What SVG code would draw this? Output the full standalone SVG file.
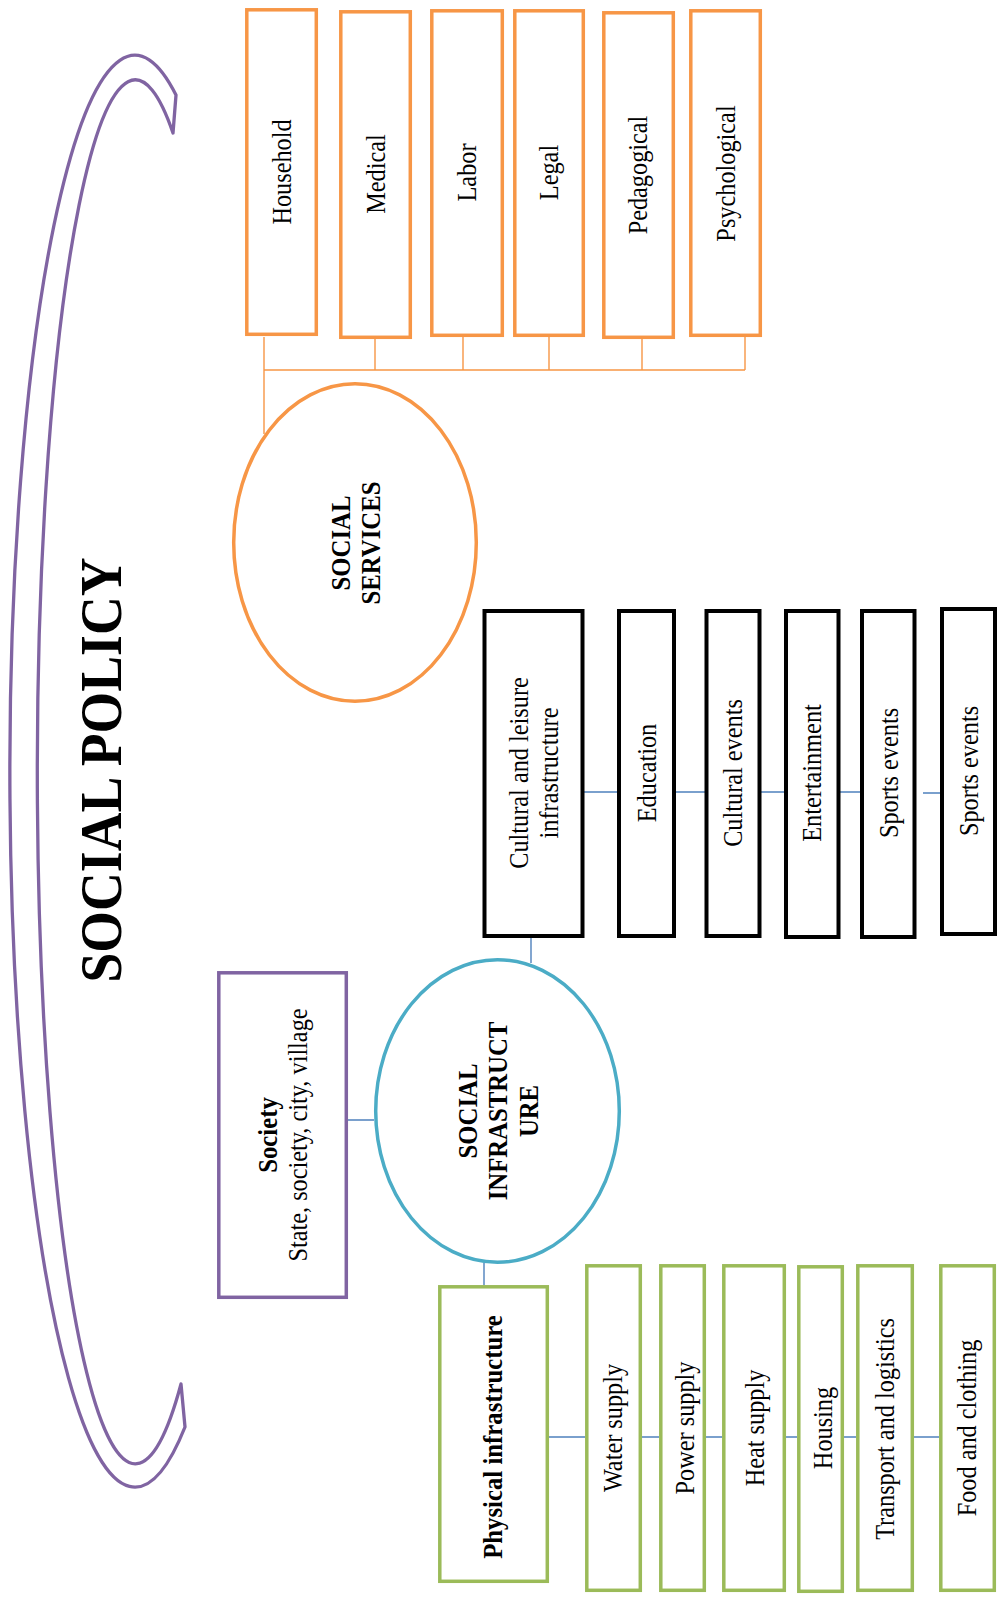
<svg xmlns="http://www.w3.org/2000/svg" width="1002" height="1597" viewBox="0 0 1002 1597">
<style>
text{font-family:"Liberation Serif","Times New Roman",serif;fill:#000;text-anchor:middle}
.r{font-size:27px}
.b{font-size:27.5px;font-weight:bold}
.or{fill:#fff;stroke:#F79646;stroke-width:3.5}
.bk{fill:#fff;stroke:#000;stroke-width:4}
.gr{fill:#fff;stroke:#9BBB59;stroke-width:3.5}
.pu{fill:#fff;stroke:#8064A2;stroke-width:3.5}
.ol{stroke:#F79646;stroke-width:1.4;fill:none}
.bl{stroke:#4F81BD;stroke-width:1.4;fill:none}
</style>
<rect width="1002" height="1597" fill="#fff"/>
<g id="social-policy">
<path d="M176,95 A125,716 0 1,0 185,1427 L181,1384 A98,692 0 1,1 173,133 Z" fill="none" stroke="#8064A2" stroke-width="3.3" stroke-linejoin="round"/>
<text transform="translate(121,770) rotate(-90)" style="font-size:60px;font-weight:bold" textLength="425" lengthAdjust="spacingAndGlyphs">SOCIAL POLICY</text>
</g>
<g id="connectors">
<path class="ol" d="M264,337V434 M375,339V370 M463,337V370 M549,337V370 M642,339V370 M745,337V370 M264,370H745"/>
<path class="bl" d="M531,938V963 M584,792H617 M676,792H705 M761,792H784 M840,792H860 M923,793H940"/>
<path class="bl" d="M348,1120H374 M484,1263V1285 M549,1437H585 M642,1437H659 M706,1437H722 M786,1437H797 M844,1437H856 M914,1437H939"/>
</g>
<g id="household"><rect class="or" x="246.8" y="9.8" width="69.5" height="324.5"/><text class="r" transform="translate(291,172) rotate(-90) scale(0.9,1)">Household</text></g>
<g id="medical"><rect class="or" x="340.8" y="11.8" width="69.5" height="325.5"/><text class="r" transform="translate(385,174) rotate(-90) scale(0.9,1)">Medical</text></g>
<g id="labor"><rect class="or" x="431.8" y="10.8" width="70.5" height="324.5"/><text class="r" transform="translate(476,172.5) rotate(-90) scale(0.9,1)">Labor</text></g>
<g id="legal"><rect class="or" x="514.8" y="10.8" width="68.5" height="324.5"/><text class="r" transform="translate(558,172.5) rotate(-90) scale(0.9,1)">Legal</text></g>
<g id="pedagogical"><rect class="or" x="603.8" y="12.8" width="69.5" height="324.5"/><text class="r" transform="translate(647,175) rotate(-90) scale(0.9,1)">Pedagogical</text></g>
<g id="psychological"><rect class="or" x="690.8" y="10.8" width="69.5" height="324.5"/><text class="r" transform="translate(735,173.5) rotate(-90) scale(0.9,1)">Psychological</text></g>
<g id="social-services"><ellipse cx="355" cy="542.5" rx="121.3" ry="158.8" fill="#fff" stroke="#F79646" stroke-width="3.5"/>
<text class="b" transform="translate(350,543) rotate(-90) scale(0.9,1)"><tspan x="0" y="0">SOCIAL</tspan><tspan x="0" y="30">SERVICES</tspan></text></g>
<g id="cultural-leisure"><rect class="bk" x="484.5" y="611" width="98" height="325"/><text class="r" transform="translate(528,773) rotate(-90) scale(0.9,1)"><tspan x="0" y="0">Cultural and leisure</tspan><tspan x="0" y="30">infrastructure</tspan></text></g>
<g id="education"><rect class="bk" x="619" y="611" width="55" height="325"/><text class="r" transform="translate(656,773) rotate(-90) scale(0.9,1)">Education</text></g>
<g id="cultural-events"><rect class="bk" x="706.5" y="611" width="53" height="325"/><text class="r" transform="translate(742,773) rotate(-90) scale(0.9,1)">Cultural events</text></g>
<g id="entertainment"><rect class="bk" x="786" y="611" width="52.5" height="326"/><text class="r" transform="translate(821,773) rotate(-90) scale(0.9,1)">Entertainment</text></g>
<g id="sports-events-1"><rect class="bk" x="862" y="611" width="52.5" height="326"/><text class="r" transform="translate(898,773) rotate(-90) scale(0.9,1)">Sports events</text></g>
<g id="sports-events-2"><rect class="bk" x="942" y="609" width="53" height="325"/><text class="r" transform="translate(978,771) rotate(-90) scale(0.9,1)">Sports events</text></g>
<g id="society"><rect class="pu" x="218.8" y="972.8" width="127.5" height="324.5"/>
<text transform="translate(277,1135) rotate(-90) scale(0.9,1)"><tspan class="b" x="0" y="0">Society</tspan><tspan class="r" x="0" y="30">State, society, city, village</tspan></text></g>
<g id="social-infrastructure"><ellipse cx="497.5" cy="1111" rx="121.8" ry="151.3" fill="#fff" stroke="#4BACC6" stroke-width="3.5"/>
<text class="b" transform="translate(477,1111) rotate(-90) scale(0.9,1)"><tspan x="0" y="0">SOCIAL</tspan><tspan x="0" y="30">INFRASTRUCT</tspan><tspan x="0" y="61">URE</tspan></text></g>
<g id="physical-infrastructure"><rect class="gr" x="439.8" y="1286.8" width="107.5" height="294.5"/><text class="b" transform="translate(502,1437) rotate(-90) scale(0.9,1)">Physical infrastructure</text></g>
<g id="water-supply"><rect class="gr" x="586.8" y="1265.8" width="53.5" height="324.5"/><text class="r" transform="translate(622,1428) rotate(-90) scale(0.9,1)">Water supply</text></g>
<g id="power-supply"><rect class="gr" x="660.8" y="1265.8" width="43.5" height="324.5"/><text class="r" transform="translate(694,1428) rotate(-90) scale(0.9,1)">Power supply</text></g>
<g id="heat-supply"><rect class="gr" x="723.8" y="1265.8" width="60.5" height="324.5"/><text class="r" transform="translate(764,1428) rotate(-90) scale(0.9,1)">Heat supply</text></g>
<g id="housing"><rect class="gr" x="798.8" y="1266.8" width="43.5" height="324.5"/><text class="r" transform="translate(832,1428) rotate(-90) scale(0.9,1)">Housing</text></g>
<g id="transport-logistics"><rect class="gr" x="857.8" y="1265.8" width="54.5" height="324.5"/><text class="r" transform="translate(894,1429) rotate(-90) scale(0.9,1)">Transport and logistics</text></g>
<g id="food-clothing"><rect class="gr" x="940.8" y="1265.8" width="53.5" height="324.5"/><text class="r" transform="translate(976,1428) rotate(-90) scale(0.9,1)">Food and clothing</text></g>
</svg>
